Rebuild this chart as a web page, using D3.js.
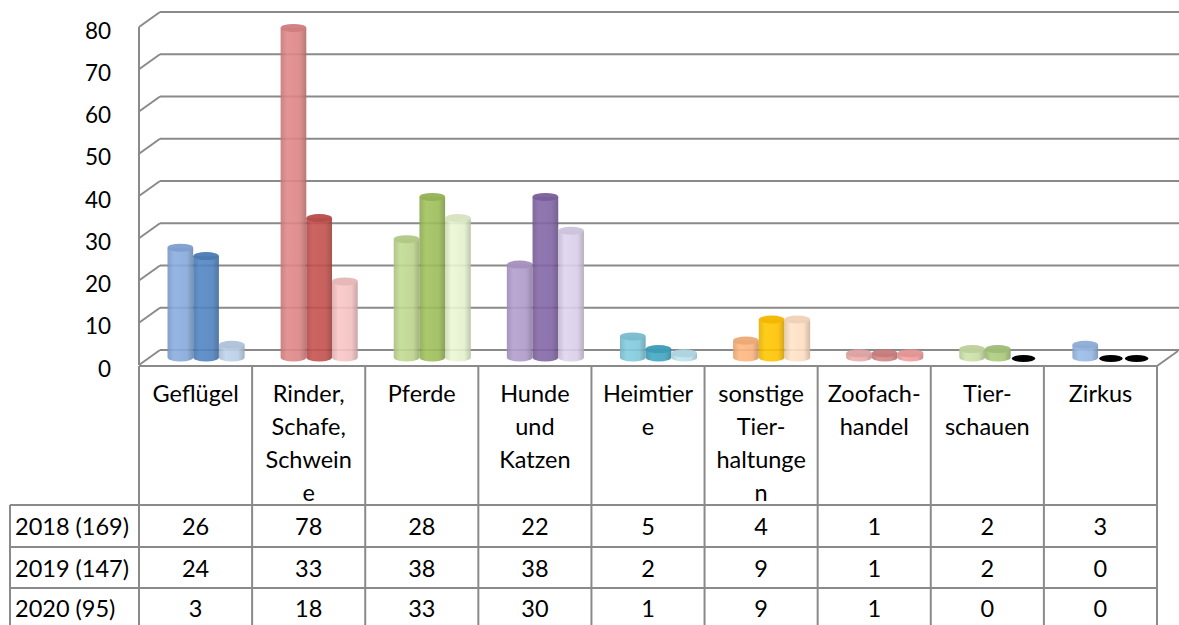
<!DOCTYPE html>
<html>
<head>
<meta charset="utf-8">
<script src="https://cdn.jsdelivr.net/npm/d3@7"></script>
<style>
  body { margin: 0; background: #fff; }
  text { font-family: Lato, "Open Sans", sans-serif; fill: #000; }
</style>
</head>
<body>
<script>
// chart data
var categories = ["Geflügel", "Rinder, Schafe, Schweine", "Pferde", "Hunde und Katzen", "Heimtiere",
                  "sonstige Tierhaltungen", "Zoofachhandel", "Tierschauen", "Zirkus"];
var headerLines = [["Geflügel"], ["Rinder,", "Schafe,", "Schwein", "e"], ["Pferde"], ["Hunde", "und", "Katzen"],
                   ["Heimtier", "e"], ["sonstige", "Tier-", "haltunge", "n"], ["Zoofach-", "handel"],
                   ["Tier-", "schauen"], ["Zirkus"]];
var series = ["2018 (169)", "2019 (147)", "2020 (95)"];
var values2018 = [26, 78, 28, 22, 5, 4, 1, 2, 3];
var values2019 = [24, 33, 38, 38, 2, 9, 1, 2, 0];
var values2020 = [3, 18, 33, 30, 1, 9, 1, 0, 0];
var yTicks = [0, 10, 20, 30, 40, 50, 60, 70, 80];

// one colour triple per category (2018, 2019, 2020)
var colors = [
  ["#85a7d8", "#4f81bd", "#b9cde5"],
  ["#da8383", "#c0504d", "#f2c0c0"],
  ["#bbd38c", "#9bbb59", "#e3efcc"],
  ["#ad98c7", "#8064a2", "#d7cde6"],
  ["#7fc6d9", "#3fa3bf", "#b7dfea"],
  ["#f9b27c", "#ffc000", "#fcdcc0"],
  ["#e8aaaa", "#d08282", "#ee9c9c"],
  ["#c6dba3", "#a8c67a", "#000000"],
  ["#95b5e1", "#000000", "#000000"]
];

var width = 1179, height = 625;
var depthX = 21, depthY = -15;

var svg = d3.select("body").append("svg")
    .attr("width", width)
    .attr("height", height);

var defs = svg.append("defs");

var x = d3.scaleBand().domain(d3.range(categories.length)).range([139, 1157]).padding(0);
var inner = d3.scaleBand().domain([0, 1, 2]).range([18, x.bandwidth() - 18]).padding(0);
var y = d3.scaleLinear().domain([0, 80]).range([365, 27]);

var gridColor = "#8a8a8a";

// back wall gridlines + left wall diagonals
var grid = svg.append("g");
yTicks.forEach(function(t) {
  grid.append("line")
    .attr("x1", 139 + depthX).attr("x2", width)
    .attr("y1", y(t) + depthY).attr("y2", y(t) + depthY)
    .attr("stroke", gridColor).attr("stroke-width", 2);
  grid.append("line")
    .attr("x1", 139).attr("x2", 139 + depthX)
    .attr("y1", y(t)).attr("y2", y(t) + depthY)
    .attr("stroke", gridColor).attr("stroke-width", 2);
  svg.append("text")
    .attr("x", 111).attr("y", y(t) + 3)
    .attr("text-anchor", "end")
    .attr("dominant-baseline", "central")
    .style("font-size", "22.5px")
    .text(t);
});
grid.append("line")
  .attr("x1", 139).attr("x2", 139)
  .attr("y1", y(80)).attr("y2", y(0))
  .attr("stroke", gridColor).attr("stroke-width", 2);
// floor right edge
grid.append("line")
  .attr("x1", 1157).attr("x2", 1157 + depthX)
  .attr("y1", y(0) + 1).attr("y2", y(0) + 1 + depthY)
  .attr("stroke", gridColor).attr("stroke-width", 2);

// cylinders
var rows = [values2018, values2019, values2020];
var gradId = 0;
function gradient(c) {
  var id = "g" + (gradId++);
  var base = d3.color(c);
  var g = defs.append("linearGradient").attr("id", id)
    .attr("x1", "0%").attr("x2", "100%").attr("y1", "0%").attr("y2", "0%");
  g.append("stop").attr("offset", "0%").attr("stop-color", base.darker(0.3));
  g.append("stop").attr("offset", "25%").attr("stop-color", base.brighter(0.1));
  g.append("stop").attr("offset", "75%").attr("stop-color", base);
  g.append("stop").attr("offset", "100%").attr("stop-color", base.darker(0.6));
  return id;
}

var bars = svg.append("g");
var ry = 4;
categories.forEach(function(cat, ci) {
  rows.forEach(function(vals, si) {
    var v = vals[ci];
    var c = colors[ci][si];
    var x0 = x(ci) + inner(si) + depthX / 2;
    var w = inner.bandwidth();
    var rx = w / 2;
    var yb = y(0) + depthY / 2;
    var yt = y(v) + depthY / 2;
    if (v === 0) {
      bars.append("ellipse")
        .attr("cx", x0 + rx).attr("cy", yb + 1)
        .attr("rx", rx - 1).attr("ry", ry - 0.5)
        .attr("fill", "#000");
      return;
    }
    var id = gradient(c);
    bars.append("path")
      .attr("d", "M" + x0 + "," + yt + " L" + x0 + "," + yb +
                 " A" + rx + "," + ry + " 0 0 0 " + (x0 + w) + "," + yb +
                 " L" + (x0 + w) + "," + yt + " Z")
      .attr("fill", "url(#" + id + ")")
      .attr("opacity", 0.9);
    bars.append("ellipse")
      .attr("cx", x0 + rx).attr("cy", yt)
      .attr("rx", rx).attr("ry", ry)
      .attr("fill", d3.color(c).darker(0.15))
      .attr("opacity", 0.95);
  });
});

// floor front edge
svg.append("line")
  .attr("x1", 139).attr("x2", 1157)
  .attr("y1", y(0) + 1).attr("y2", y(0) + 1)
  .attr("stroke", gridColor).attr("stroke-width", 2);

// data table
var table = svg.append("g");
var rowTop = [505, 547, 588, 630];
var lineColor = "#8a8a8a";
var fs = "23.5px";
d3.range(categories.length + 1).forEach(function(i) {
  var xx = i < categories.length ? x(i) : x.range()[1];
  table.append("line")
    .attr("x1", xx).attr("x2", xx)
    .attr("y1", y(0) + 1).attr("y2", height)
    .attr("stroke", lineColor).attr("stroke-width", 2);
});
table.append("line")
  .attr("x1", 10).attr("x2", 10)
  .attr("y1", rowTop[0]).attr("y2", height)
  .attr("stroke", lineColor).attr("stroke-width", 2);
rowTop.forEach(function(r) {
  table.append("line")
    .attr("x1", 10).attr("x2", 1157)
    .attr("y1", r).attr("y2", r)
    .attr("stroke", lineColor).attr("stroke-width", 2);
});

headerLines.forEach(function(lines, ci) {
  lines.forEach(function(l, li) {
    table.append("text")
      .attr("x", x(ci) + x.bandwidth() / 2)
      .attr("y", 393 + li * 33)
      .attr("text-anchor", "middle")
      .attr("dominant-baseline", "central")
      .style("font-size", fs)
      .text(l);
  });
});

series.forEach(function(s, si) {
  var cy = (rowTop[si] + rowTop[si + 1]) / 2;
  if (si === 2) cy = 608;
  table.append("text")
    .attr("x", 15).attr("y", cy)
    .attr("dominant-baseline", "central")
    .style("font-size", fs)
    .text(s);
  rows[si].forEach(function(v, ci) {
    table.append("text")
      .attr("x", x(ci) + x.bandwidth() / 2)
      .attr("y", cy)
      .attr("text-anchor", "middle")
      .attr("dominant-baseline", "central")
      .style("font-size", fs)
      .text(v);
  });
});
</script>
</body>
</html>
